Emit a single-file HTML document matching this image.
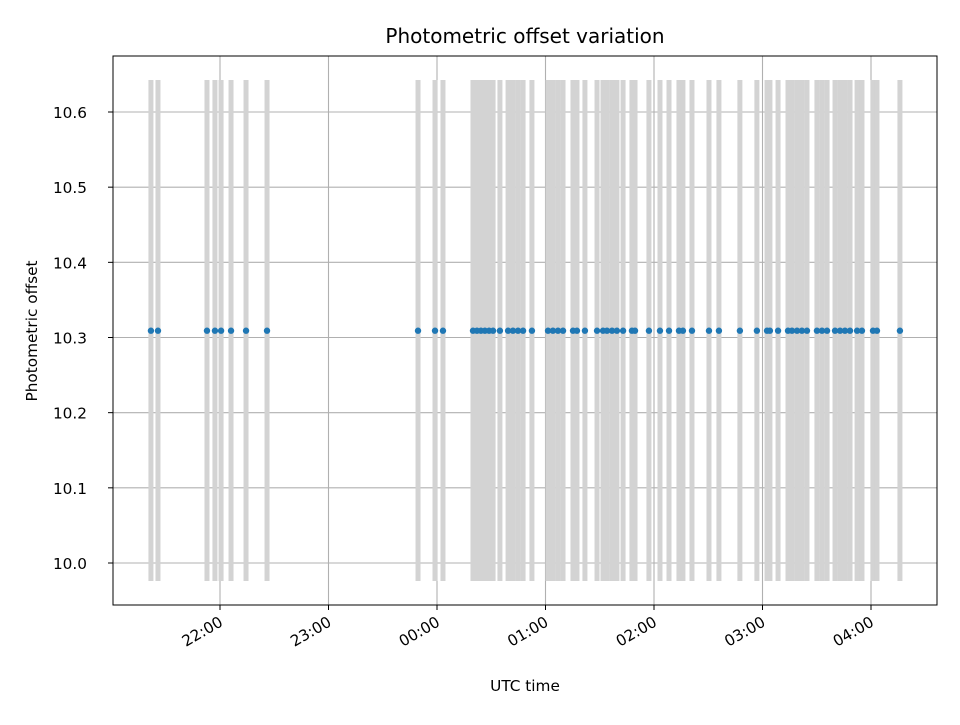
<!DOCTYPE html>
<html><head><meta charset="utf-8"><style>
body{margin:0;background:#fff;}
svg text{font-family:"DejaVu Sans","Liberation Sans",sans-serif;fill:#000;}
</style></head><body>
<svg id="chart" width="960" height="720" xmlns="http://www.w3.org/2000/svg">
<rect x="0" y="0" width="960" height="720" fill="#fff"/>
<g id="grid"></g>
<g id="bars"></g>
<g id="points"></g>
<rect x="113" y="56" width="824" height="549" fill="none" stroke="#000" stroke-width="1"/>
<g id="xticks"></g>
<g id="yticks"></g>
<text x="525" y="43" style="font-size:20px" text-anchor="middle">Photometric offset variation</text>
<text x="525" y="691" style="font-size:15.3px" text-anchor="middle">UTC time</text>
<text x="37" y="331" style="font-size:15.3px" text-anchor="middle" transform="rotate(-90 37 331)">Photometric offset</text>
</svg>
<script>
// minutes relative to 22:00 UTC
const times=[-38.2,-34.3,-7.2,-2.8,0.6,6.1,14.4,26.0,109.5,118.9,123.3,139.9,142.1,144.3,146.5,148.8,151.0,154.8,159.3,162.0,164.8,167.6,172.5,181.4,184.1,186.9,189.7,195.2,197.4,201.8,208.5,211.8,214.0,216.8,219.5,222.9,227.8,229.5,237.2,243.3,248.3,253.8,256.0,261.0,270.4,275.9,287.5,296.9,302.5,304.1,308.6,314.1,316.3,319.1,321.8,324.6,330.1,332.9,335.7,340.1,342.9,345.6,348.4,352.3,355.0,361.1,363.3,376.0];
const offsets=times.map(()=>10.309);
const xTickMinutes=[0,60,120,180,240,300,360];
const xTickLabels=["22:00","23:00","00:00","01:00","02:00","03:00","04:00"];
const yTicks=[10.0,10.1,10.2,10.3,10.4,10.5,10.6];
const NS="http://www.w3.org/2000/svg";
const X=m=>220+m*108.5/60;
const Y=v=>563-(v-10.0)*(563-112)/0.6;
function mk(t,a,p){const e=document.createElementNS(NS,t);for(const k in a)e.setAttribute(k,a[k]);p.appendChild(e);return e;}
const grid=document.getElementById('grid'),bars=document.getElementById('bars'),pts=document.getElementById('points'),xt=document.getElementById('xticks'),yt=document.getElementById('yticks');
xTickMinutes.forEach((m,i)=>{const x=X(m);
 const g=mk('line',{x1:x,x2:x,y1:56,y2:605,stroke:'#b0b0b0','stroke-width':1.1},grid);
 
 
 const t=mk('line',{x1:x,x2:x,y1:605,y2:610,stroke:'#000'},xt);
 
 
 const l=mk('text',{x:x+4,y:625,style:'font-size:15.3px','text-anchor':'end',transform:`rotate(-30 ${x+4} 625)`},xt);
 l.textContent=xTickLabels[i];
 
 
});
yTicks.forEach(v=>{const y=Y(v);
 const g=mk('line',{x1:113,x2:937,y1:y,y2:y,stroke:'#b0b0b0','stroke-width':1.1},grid);
 
 
 const t=mk('line',{x1:108,x2:113,y1:y,y2:y,stroke:'#000'},yt);
 
 
 const l=mk('text',{x:87,y:y+6,style:'font-size:15.3px','text-anchor':'end'},yt);
 l.textContent=v.toFixed(1);
 
 
});
times.forEach((m,i)=>{const x=X(m);
 const b=mk('line',{x1:x,x2:x,y1:80,y2:581,stroke:'#d3d3d3','stroke-width':5},bars);
 
 
});
times.forEach((m,i)=>{
 const c=mk('circle',{cx:X(m),cy:Y(offsets[i]),r:3.2,fill:'#1f77b4'},pts);
 
 
});
</script>
</body></html>
